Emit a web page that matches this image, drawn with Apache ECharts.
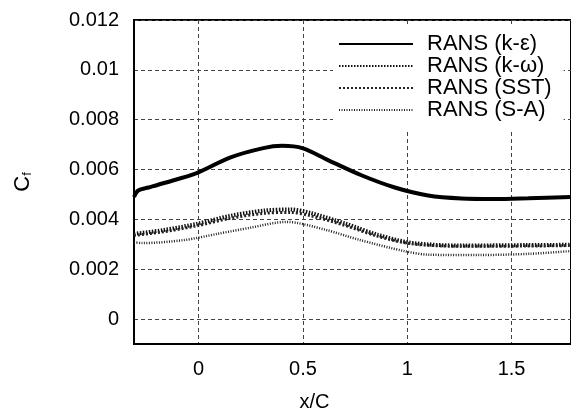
<!DOCTYPE html>
<html>
<head>
<meta charset="utf-8">
<script src="https://cdn.jsdelivr.net/npm/echarts@6/dist/echarts.min.js"></script>
<style>html,body{margin:0;padding:0;background:#fff}#c{width:571px;height:417px}</style>
</head>
<body>
<div id="c"></div>
<script>
var seriesNames = ['RANS (k-\u03b5)', 'RANS (k-\u03c9)', 'RANS (SST)', 'RANS (S-A)'];
var xKE  = [-0.31, -0.29, -0.24, -0.17, -0.01, 0.15, 0.31, 0.40, 0.50, 0.62, 0.78, 0.94, 1.10, 1.26, 1.42, 1.58, 1.785];
var yKE  = [0.00490, 0.00516, 0.00528, 0.00545, 0.00586, 0.00648, 0.00686, 0.00695, 0.00685, 0.00638, 0.00577, 0.00528, 0.00496, 0.00484, 0.00482, 0.00485, 0.00490];
var xKW  = [-0.31, -0.17, -0.01, 0.15, 0.31, 0.44, 0.54, 0.70, 0.86, 1.02, 1.26, 1.58, 1.785];
var yKW  = [0.00342, 0.00357, 0.00382, 0.00414, 0.00435, 0.00440, 0.00425, 0.00384, 0.00338, 0.00306, 0.00295, 0.00297, 0.00298];
var xSST = [-0.31, -0.17, -0.01, 0.15, 0.31, 0.44, 0.54, 0.70, 0.86, 1.02, 1.26, 1.58, 1.785];
var ySST = [0.00336, 0.00350, 0.00374, 0.00404, 0.00424, 0.00428, 0.00414, 0.00376, 0.00332, 0.00302, 0.00292, 0.00293, 0.00295];
var xSA  = [-0.31, -0.27, -0.07, 0.09, 0.25, 0.42, 0.61, 0.77, 0.99, 1.11, 1.35, 1.59, 1.785];
var ySA  = [0.00308, 0.00305, 0.00317, 0.00342, 0.00367, 0.00390, 0.00358, 0.00318, 0.00272, 0.00258, 0.00257, 0.00262, 0.00273];

function pairs(xs, ys) { return xs.map(function (x, i) { return [x, ys[i]]; }); }

var chart = echarts.init(document.getElementById('c'), null, {renderer: 'canvas'});
var font = 'Liberation Sans, Arial, sans-serif';
var gridStyle = {show: true, lineStyle: {color: '#444', width: 1, type: [4, 3]}};

function line(i, xs, ys, ls) {
  return {name: seriesNames[i], type: 'line', smooth: 0.3, symbol: 'none',
          data: pairs(xs, ys), itemStyle: {color: '#000'}, lineStyle: ls};
}

chart.setOption({
  animation: false,
  backgroundColor: '#fff',
  grid: {left: 134, right: -3, top: 20, bottom: 65, show: true, borderColor: '#000', borderWidth: 2, backgroundColor: 'transparent'},
  legend: {
    orient: 'vertical', left: 333, top: 26,
    itemWidth: 74, itemHeight: 10, itemGap: 0,
    itemStyle: {opacity: 0, borderWidth: 0},
    backgroundColor: '#fff', padding: [7, 12, 10, 5],
    textStyle: {fontFamily: font, fontSize: 22, color: '#000', lineHeight: 17.7, padding: [0, 0, 0, 9]},
    data: seriesNames
  },
  xAxis: {
    type: 'value', min: -0.31, max: 1.785, splitNumber: 5,
    name: 'x/C', nameLocation: 'middle', nameGap: 48,
    nameTextStyle: {fontFamily: font, fontSize: 20, color: '#000', padding: [0, 76, 0, 0]},
    axisLine: {show: true, onZero: false, lineStyle: {color: '#000', width: 2}},
    axisTick: {show: false},
    axisLabel: {fontFamily: font, fontSize: 20, color: '#000', margin: 15, showMinLabel: false, showMaxLabel: false},
    splitLine: gridStyle
  },
  yAxis: {
    type: 'value', min: -0.001, max: 0.012, splitNumber: 6,
    name: '{c|C}{f|f}', nameLocation: 'middle', nameGap: 100, nameRotate: 90,
    nameTextStyle: {rich: {c: {fontFamily: font, fontSize: 22, color: '#000'}, f: {fontFamily: font, fontSize: 13, color: '#000', verticalAlign: 'bottom', padding: [8, 0, 0, 0]}}},
    axisLine: {show: true, onZero: false, lineStyle: {color: '#000', width: 2}},
    axisTick: {show: false},
    axisLabel: {fontFamily: font, fontSize: 20, color: '#000', margin: 15, showMinLabel: false},
    splitLine: gridStyle
  },
  series: [
    line(0, xKE, yKE, {color: '#000', width: 4}),
    line(1, xKW, yKW, {color: '#111', width: 4, type: [1.5, 1.5]}),
    line(2, xSST, ySST, {color: '#222', width: 3, type: [2, 2]}),
    line(3, xSA, ySA, {color: '#222', width: 2.5, type: [1, 1.5]})
  ]
});
</script>
</body>
</html>
